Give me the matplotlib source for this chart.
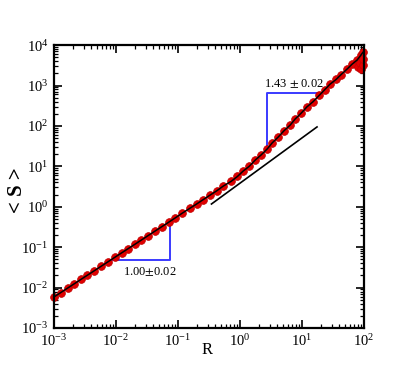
import matplotlib
matplotlib.use("Agg")
import matplotlib.pyplot as plt
from matplotlib.ticker import LogLocator, NullFormatter

plt.rcParams["font.family"] = ["Liberation Serif", "DejaVu Serif"]
plt.rcParams["mathtext.fontset"] = "stix"

# main series <S>(R)
R = [0.001, 0.00129, 0.00166, 0.00214, 0.00275, 0.00347, 0.00447, 0.00575, 0.00741, 0.00955,
     0.0123, 0.0158, 0.0204, 0.0257, 0.0331, 0.0427, 0.0550, 0.0708, 0.0912,
     0.117, 0.155, 0.200, 0.257, 0.331, 0.422, 0.537, 0.724, 0.912, 1.12,
     1.41, 1.78, 2.19, 2.75, 3.31, 4.17, 5.13, 6.46, 7.76, 9.77,
     12.0, 15.1, 19.1, 23.4, 28.2, 35.5, 42.7, 53.7, 64.6, 77.6, 89.1, 96.0]
S = [0.00585, 0.00755, 0.00971, 0.0125, 0.0161, 0.0203, 0.0261, 0.0336, 0.0433, 0.0559,
     0.0720, 0.0924, 0.119, 0.150, 0.194, 0.250, 0.322, 0.414, 0.534,
     0.692, 0.912, 1.17, 1.51, 1.95, 2.48, 3.24, 4.27, 5.62, 7.59,
     10.0, 14.5, 19.1, 26.9, 38.0, 53.7, 75.9, 105, 148, 209,
     295, 398, 575, 794, 1070, 1410, 1860, 2570, 3390, 4270, 5620, 6600]

# scattered points at the large-R end
R_scatter = [80.0, 85.0, 90.0, 95.0, 98.0]
S_scatter = [2900, 3700, 2600, 3300, 4500]

# straight reference line
R_ref = [0.347, 17.5]
S_ref = [1.17, 94.4]

# slope triangles
tri_low_R = [0.0088, 0.0751, 0.0751]
tri_low_S = [0.0482, 0.0482, 0.428]
tri_high_R = [2.69, 2.69, 18.2]
tri_high_S = [27.0, 646, 646]

fig = plt.figure(figsize=(4.15, 3.70), dpi=100)
ax = fig.add_axes([0.130, 0.1135, 0.747, 0.7646])

ax.plot(R + R_scatter, S + S_scatter, "o", ms=5.6, color="#e00000",
        mec="#c00000", mew=0.5, zorder=2, clip_on=False)
ax.plot(R, S, "-", color="black", lw=1.1, zorder=3)
ax.plot(R_ref, S_ref, "-", color="black", lw=1.2, zorder=3)
ax.plot(tri_low_R, tri_low_S, "-", color="#3a3aff", lw=1.4, zorder=1)
ax.plot(tri_high_R, tri_high_S, "-", color="#3a3aff", lw=1.4, zorder=1)

ax.text(0.0349, 0.0247, "1.00$\\pm$0.02", fontsize=9, ha="center", va="center")
ax.text(7.5, 1085, "1.43 $\\pm$ 0.02", fontsize=9, ha="center", va="center")

ax.set_xscale("log")
ax.set_yscale("log")
ax.set_xlim(1e-3, 1e2)
ax.set_ylim(1e-3, 1e4)

for a in (ax.xaxis, ax.yaxis):
    a.set_major_locator(LogLocator(base=10, numticks=20))
    a.set_minor_locator(LogLocator(base=10, subs=range(2, 10), numticks=20))
    a.set_minor_formatter(NullFormatter())

ax.tick_params(which="both", direction="in", top=True, right=True, width=1.2,
               labelsize=10.5, pad=4)
ax.tick_params(which="major", length=6)
ax.tick_params(which="minor", length=3, width=0.9)
for sp in ax.spines.values():
    sp.set_linewidth(1.6)

ax.set_xlabel("R", fontsize=12)
ax.set_ylabel("< S >", fontsize=15, fontweight="bold")
ax.xaxis.set_label_coords(0.495, -0.078)
ax.xaxis.label.set_va("center")
ax.yaxis.set_label_coords(-0.118, 0.488)
ax.yaxis.label.set_va("center")

fig.savefig("out.png")
